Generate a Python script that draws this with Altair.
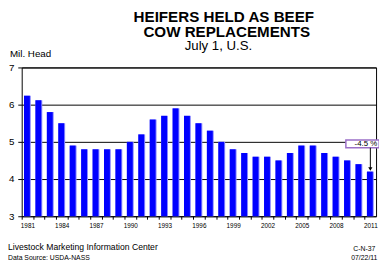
import altair as alt
import pandas as pd

years = list(range(1981, 2012))
values = [6.24, 6.12, 5.8, 5.5, 4.9, 4.8, 4.8, 4.8, 4.8, 5.0, 5.2, 5.6, 5.7, 5.9, 5.7,
          5.5, 5.3, 5.0, 4.8, 4.7, 4.6, 4.6, 4.5, 4.7, 4.9, 4.9, 4.7, 4.6, 4.5, 4.4, 4.2]
y_floor = 3
y_ticks = [3, 4, 5, 6, 7]

title_lines = ["HEIFERS HELD AS BEEF", "COW REPLACEMENTS"]
subtitle = "July 1, U.S."
y_label = "Mil. Head"
footer_left = ["Livestock Marketing Information Center", "Data Source:  USDA-NASS"]
footer_right = ["C-N-37", "07/22/11"]

ann_year = [2011]
ann_lo = [4.84]
ann_hi = [5.05]
ann_tip = [4.27]
ann_text = ["-4.5 %"]

df = pd.DataFrame({"year": years, "value": values})
ann = pd.DataFrame({"year": ann_year, "lo": ann_lo, "hi": ann_hi, "tip": ann_tip, "label": ann_text})

FONT = "Liberation Sans"
W, H = 362, 152
STEP = W / len(years)

xscale = alt.Scale(domain=years, paddingInner=0.45, paddingOuter=0.225)
yscale = alt.Scale(domain=[3, 7], nice=False, zero=False)

xaxis = alt.Axis(labelExpr="(datum.value - 1981) % 3 == 0 ? datum.label : ''",
                 labelAngle=0, labelFontSize=6.5, labelFont=FONT, labelColor="black",
                 ticks=True, tickSize=3, tickColor="black",
                 tickOffset=-STEP / 2, labelOffset=STEP / 2, labelAlign="center", labelOverlap=False,
                 domain=False, labelPadding=4, orient="bottom", grid=False)
yaxis = alt.Axis(values=y_ticks, tickSize=4, tickColor="black",
                 labelFontSize=10, labelFont=FONT, labelColor="black", labelPadding=4,
                 labelOverlap=False, grid=True, gridColor="black", gridWidth=1, gridOpacity=1,
                 domain=False)

xo = alt.X("year:O", scale=xscale, axis=xaxis, title=None)


def yo(f):
    return alt.Y(f, scale=yscale, axis=yaxis, title=None)


base = alt.Chart(df)
light = base.mark_bar(size=7, color="#8c8cff").encode(x=xo, y=yo("value:Q"), y2=alt.datum(y_floor))
bars = base.mark_bar(size=6, color="#0000ff", xOffset=-0.5).encode(x=xo, y=yo("value:Q"), y2=alt.datum(y_floor))

abase = alt.Chart(ann)
box = abase.mark_bar(size=34, xOffset=-8, fill="white", stroke="#9b6fc7", strokeWidth=1.5).encode(
    x=xo, y=yo("lo:Q"), y2="hi:Q")
label = abase.mark_text(align="right", baseline="middle", dx=7, fontSize=8, font=FONT, color="black").encode(
    x=xo, y=yo("mid:Q"), text="label:N"
).transform_calculate(mid="(datum.lo + datum.hi) / 2")
stem = abase.mark_rule(color="black", strokeWidth=1).encode(x=xo, y=yo("lo:Q"), y2="tip:Q")
head = abase.mark_point(shape="triangle-down", size=18, filled=True, color="black", opacity=1).encode(
    x=xo, y=yo("tip:Q"))


def txt(s, x, y, size, align="left", weight="normal"):
    return alt.Chart(pd.DataFrame({"t": [s]})).mark_text(
        align=align, baseline="alphabetic", fontSize=size, font=FONT, fontWeight=weight, color="black"
    ).encode(x=alt.value(x), y=alt.value(y), text="t:N")


texts = [
    txt(title_lines[0], 206.5, -46.6, 15.5, "center", "bold"),
    txt(title_lines[1], 209.5, -30.8, 15.5, "center", "bold"),
    txt(subtitle, 201, -18.3, 13.5, "center"),
    txt(y_label, -12, -10.3, 10),
    txt(footer_left[0], -14, 186, 8.8),
    txt(footer_left[1], -14, 196.7, 7),
    txt(footer_right[0], 350, 187.3, 7, "center"),
    txt(footer_right[1], 350, 196.7, 7, "center"),
]

chart = alt.layer(light, bars, box, label, stem, head, *texts).properties(
    width=W, height=H,
    autosize=alt.AutoSizeParams(type="none"),
    padding={"left": 14, "top": 58, "right": 3, "bottom": 44},
).configure(background="white").configure_view(stroke="black", strokeWidth=1)

chart.save("out.html", embed_options={"renderer": "svg", "actions": False})
